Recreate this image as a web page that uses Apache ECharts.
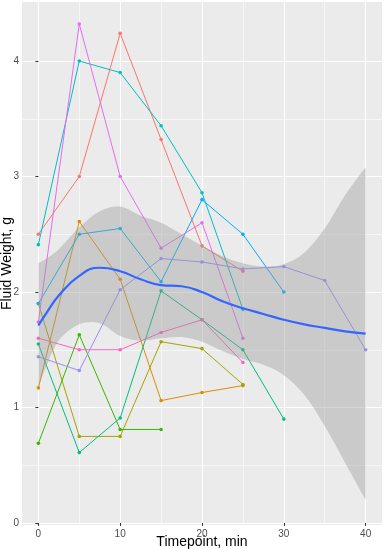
<!DOCTYPE html>
<html><head><meta charset="utf-8">
<script src="https://cdn.jsdelivr.net/npm/echarts@6/dist/echarts.min.js"></script>
<style>html,body{margin:0;padding:0;background:#fff}#c{width:384px;height:549px}</style>
</head><body><div id="c"></div>
<script>
// ---- tick values ----
const xTicks = [0, 10, 20, 30, 40];
const xMinorTicks = [5, 15, 25, 35];
const yTicks = [0, 1, 2, 3, 4];
const yMinorTicks = [0.5, 1.5, 2.5, 3.5];

// ---- timepoints (min) ----
const timepoints = [0, 5, 10, 15, 20, 25, 30, 35, 40];

// ---- fluid weight per subject (g) ----
const subject1 = [2.50, 3.00, 4.24, 3.32, 2.40, 2.18];
const subject2 = [1.17, 2.61, 2.11, 1.06, 1.13, 1.19];
const subject3 = [1.90, 0.75, 0.75, 1.57, 1.51, 1.20];
const subject4 = [0.69, 1.63, 0.81, 0.81];
const subject5 = [1.55, 0.61, 0.91, 2.01, 1.76, 1.50, 0.90];
const subject6 = [2.41, 4.00, 3.90, 3.44, 2.86, 1.85];
const subject7 = [1.90, 2.50, 2.55, 2.09, 2.80, 2.50, 2.00];
const subject8 = [1.44, 1.32, 2.02, 2.29, 2.26, 2.20, 2.22, 2.10, 1.50];
const subject9 = [1.74, 4.32, 3.00, 2.38, 2.60, 1.60];
const subject10 = [1.60, 1.50, 1.50, 1.65, 1.76, 1.39];
const subjects = [subject1, subject2, subject3, subject4, subject5, subject6, subject7, subject8, subject9, subject10];
const subjectColors = ['#F8766D','#D89000','#A3A500','#39B600','#00BF7D','#00BFC4','#00B0F6','#9590FF','#E76BF3','#FF62BC'];

// ---- loess smooth and confidence band ----
const fitX     = [0,    1,    2.5,  5,    7.5,  10,   12.5, 15,   17.5, 20,   22.5, 25,   27.5, 30,   32.5, 35,   37.5, 40];
const fitY     = [1.71, 1.82, 1.97, 2.14, 2.21, 2.18, 2.11, 2.06, 2.05, 2.00, 1.92, 1.86, 1.81, 1.76, 1.72, 1.69, 1.66, 1.64];
const fitUpper = [2.25, 2.29, 2.37, 2.56, 2.70, 2.74, 2.66, 2.60, 2.50, 2.40, 2.31, 2.25, 2.22, 2.24, 2.34, 2.55, 2.84, 3.08];
const fitLower = [1.18, 1.36, 1.58, 1.72, 1.73, 1.62, 1.58, 1.60, 1.61, 1.57, 1.49, 1.42, 1.37, 1.28, 1.11, 0.84, 0.52, 0.20];

const FONT = 'Liberation Sans, Arial, Helvetica, sans-serif';
const chart = echarts.init(document.getElementById('c'), null, {renderer: 'canvas'});

// Catmull-Rom spline through pixel points -> SVG path segments (no leading M)
function splinePath(pts) {
  let d = '';
  for (let i = 0; i < pts.length - 1; i++) {
    const p0 = pts[Math.max(i - 1, 0)], p1 = pts[i], p2 = pts[i + 1], p3 = pts[Math.min(i + 2, pts.length - 1)];
    const c1x = p1[0] + (p2[0] - p0[0]) / 6, c1y = p1[1] + (p2[1] - p0[1]) / 6;
    const c2x = p2[0] - (p3[0] - p1[0]) / 6, c2y = p2[1] - (p3[1] - p1[1]) / 6;
    d += ' C' + c1x + ' ' + c1y + ' ' + c2x + ' ' + c2y + ' ' + p2[0] + ' ' + p2[1];
  }
  return d;
}

const series = [];
subjects.forEach((vals, i) => {
  series.push({
    type: 'line', name: 'S' + (i + 1),
    data: vals.map((v, k) => [timepoints[k], v]),
    xAxisIndex: 0, yAxisIndex: 0,
    symbol: 'circle', symbolSize: 3.6, showSymbol: true,
    lineStyle: {width: 1, color: subjectColors[i]},
    itemStyle: {color: subjectColors[i]},
    z: 2, silent: true, animation: false
  });
});
series.push({
  type: 'custom', name: 'ci', xAxisIndex: 0, yAxisIndex: 0,
  data: [[fitX[0], fitY[0]]],
  renderItem: function (params, api) {
    const up = fitX.map((x, k) => api.coord([x, fitUpper[k]]));
    const lo = fitX.map((x, k) => api.coord([x, fitLower[k]])).reverse();
    let d = 'M' + up[0][0] + ' ' + up[0][1] + splinePath(up);
    d += ' L' + lo[0][0] + ' ' + lo[0][1] + splinePath(lo) + ' Z';
    return {type: 'path', shape: {pathData: d}, style: {fill: 'rgba(153,153,153,0.4)', stroke: null}};
  },
  z: 3, silent: true, animation: false
});
series.push({
  type: 'line', name: 'fit', smooth: true,
  data: fitX.map((x, k) => [x, fitY[k]]),
  symbol: 'none', lineStyle: {width: 2.2, color: '#3366FF'},
  z: 4, silent: true, animation: false
});

chart.setOption({
  backgroundColor: '#ffffff',
  animation: false,
  grid: {left: 22, right: 2, top: 2, bottom: 24, show: true, backgroundColor: '#EBEBEB', borderWidth: 0,
         containLabel: false, outerBoundsMode: 'none'},
  xAxis: [{
    type: 'value', min: -2, max: 42, position: 'bottom',
    axisLine: {show: false},
    axisTick: {show: true, customValues: xTicks, length: 3, lineStyle: {color: '#333333', width: 1}},
    axisLabel: {customValues: xTicks, color: '#4D4D4D', fontSize: 10, margin: 4, fontFamily: FONT},
    splitLine: {show: true, lineStyle: {color: '#FFFFFF', width: 1.1}},
    name: 'Timepoint, min', nameLocation: 'middle', nameGap: 10, nameMoveOverlap: false,
    nameTextStyle: {color: '#000000', fontSize: 14, fontFamily: FONT, verticalAlign: 'top'}
  }, {
    type: 'value', min: -2, max: 42, position: 'top',
    axisLine: {show: false}, axisLabel: {show: false},
    axisTick: {show: false, customValues: xMinorTicks},
    splitLine: {show: true, lineStyle: {color: '#FFFFFF', width: 0.55}}
  }],
  yAxis: [{
    type: 'value', min: -0.017, max: 4.511, position: 'left',
    axisLine: {show: false},
    axisTick: {show: true, customValues: yTicks, length: 3, lineStyle: {color: '#333333', width: 1}},
    axisLabel: {customValues: yTicks, color: '#4D4D4D', fontSize: 10, margin: 3, fontFamily: FONT},
    splitLine: {show: true, lineStyle: {color: '#FFFFFF', width: 1.1}},
    name: 'Fluid Weight, g', nameLocation: 'middle', nameGap: 8, nameMoveOverlap: false,
    nameTextStyle: {color: '#000000', fontSize: 14, fontFamily: FONT}
  }, {
    type: 'value', min: -0.017, max: 4.511, position: 'right',
    axisLine: {show: false}, axisLabel: {show: false},
    axisTick: {show: false, customValues: yMinorTicks},
    splitLine: {show: true, lineStyle: {color: '#FFFFFF', width: 0.55}}
  }],
  series: series
});
</script>
</body></html>
